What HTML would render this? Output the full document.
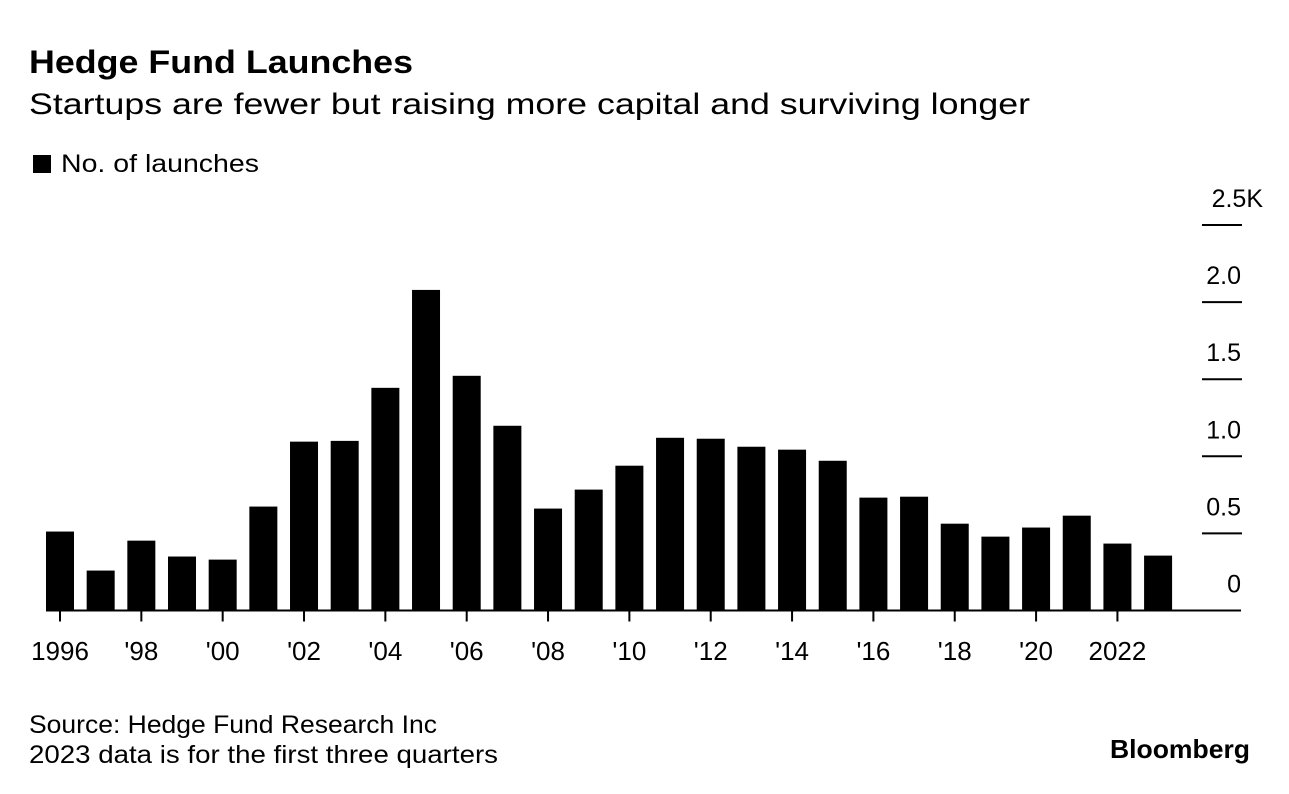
<!DOCTYPE html>
<html><head><meta charset="utf-8"><style>
body{margin:0;background:#fff;width:1289px;height:794px;overflow:hidden;font-family:"Liberation Sans",sans-serif;color:#000}
</style></head><body>
<svg width="1289" height="794" style="position:absolute;left:0;top:0">
<text x="29" y="73" font-size="32" font-weight="bold" textLength="384" lengthAdjust="spacingAndGlyphs">Hedge Fund Launches</text>
<text x="29" y="114" font-size="30" textLength="1001" lengthAdjust="spacingAndGlyphs">Startups are fewer but raising more capital and surviving longer</text>
<rect x="33" y="155" width="18" height="18" fill="#000"/>
<text x="61" y="172" font-size="25" textLength="198" lengthAdjust="spacingAndGlyphs">No. of launches</text>
<g id="grid"></g><g id="bars"></g><g id="xaxis"></g>
<text x="29" y="733" font-size="25" textLength="408" lengthAdjust="spacingAndGlyphs">Source: Hedge Fund Research Inc</text>
<text x="29" y="763" font-size="25" textLength="469" lengthAdjust="spacingAndGlyphs">2023 data is for the first three quarters</text>
<text x="1110" y="758" font-size="26" font-weight="bold" textLength="140" lengthAdjust="spacingAndGlyphs">Bloomberg</text>
</svg>
<script>
const years=[1996,1997,1998,1999,2000,2001,2002,2003,2004,2005,2006,2007,2008,2009,2010,2011,2012,2013,2014,2015,2016,2017,2018,2019,2020,2021,2022,2023];
const launches=[512,259,453,350,330,674,1095,1100,1444,2079,1522,1198,661,784,939,1120,1114,1062,1043,971,732,738,563,479,538,615,434,356];
const yTicks=[0,500,1000,1500,2000,2500];
const yTickLabels=["0","0.5","1.0","1.5","2.0","2.5K"];
const xLabelYears=[1996,1998,2000,2002,2004,2006,2008,2010,2012,2014,2016,2018,2020,2022];
const xLabels=["1996","'98","'00","'02","'04","'06","'08","'10","'12","'14","'16","'18","'20","2022"];
const NS="http://www.w3.org/2000/svg";
const y0=610.5,pxPer=(610.5-225)/2500;
const yS=v=>y0-v*pxPer;
const xS=yr=>60+(yr-1996)*40.67;
const bw=28;
function mk(t,a,p){const e=document.createElementNS(NS,t);for(const k in a)e.setAttribute(k,a[k]);p.appendChild(e);return e;}
const grid=document.getElementById('grid'),bars=document.getElementById('bars'),xa=document.getElementById('xaxis');
yTicks.forEach((v,i)=>{
  if(v>0){const l=mk('line',{x1:1202,x2:1242,y1:yS(v),y2:yS(v),stroke:'#000','stroke-width':2},grid);
  
  }
  const t=mk('text',{x:1241,y:yS(v)-18,'font-size':25,'text-anchor':'end'},grid);
  if(v===2500){t.setAttribute('x',1263);}
  t.textContent=yTickLabels[i];
  
  
});
years.forEach((yr,i)=>{
  const r=mk('rect',{x:xS(yr)-bw/2,y:yS(launches[i]),width:bw,height:launches[i]*pxPer,fill:'#000'},bars);
  
  
});
const base=mk('line',{x1:46,x2:1241,y1:y0,y2:y0,stroke:'#000','stroke-width':2},xa);


xLabelYears.forEach((yr,i)=>{
  const tk=mk('line',{x1:xS(yr),x2:xS(yr),y1:y0,y2:y0+11,stroke:'#000','stroke-width':2},xa);
  
  
  const t=mk('text',{x:xS(yr),y:660,'font-size':26,'text-anchor':'middle'},xa);
  t.textContent=xLabels[i];
  
  
});
</script>
</body></html>
